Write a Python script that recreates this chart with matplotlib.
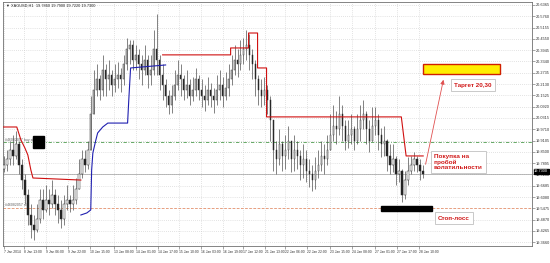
import matplotlib
matplotlib.use("Agg")
import matplotlib.pyplot as plt
from matplotlib.patches import Rectangle, FancyArrowPatch
import numpy as np

plt.rcParams['font.family'] = ['Liberation Sans', 'DejaVu Sans']

# ---------------- data (XAGUSD H1) ----------------
close = [19.78,19.81,19.86,19.83,19.89,19.78,19.70,19.62,19.51,19.46,
         19.43,19.49,19.59,19.54,19.59,19.57,19.62,19.57,19.54,19.49,
         19.57,19.59,19.57,19.59,19.65,19.73,19.81,19.78,19.86,20.05,
         20.18,20.24,20.18,20.29,20.24,20.26,20.21,20.24,20.26,20.24,
         20.32,20.40,20.42,20.34,20.37,20.32,20.29,20.34,20.26,20.29,
         20.40,20.34,20.26,20.21,20.15,20.10,20.15,20.21,20.26,20.24,
         20.18,20.21,20.15,20.18,20.24,20.18,20.15,20.13,20.18,20.15,
         20.13,20.18,20.21,20.15,20.19,20.24,20.29,20.34,20.32,20.37,
         20.40,20.42,20.37,20.32,20.24,20.18,20.15,20.18,20.13,20.02,
         19.86,19.81,19.89,19.83,19.86,19.91,19.81,19.86,19.83,19.78,
         19.81,19.75,19.73,19.70,19.75,19.78,19.83,19.81,19.86,19.94,
         19.99,19.97,20.05,19.99,19.91,19.94,19.97,19.91,19.97,20.02,
         20.05,19.97,19.91,19.99,20.02,19.94,19.89,19.91,19.83,19.78,
         19.81,19.73,19.75,19.62,19.70,19.75,19.78,19.81,19.78,19.75,
         19.73]
open_ = [19.76,19.78,19.81,19.86,19.83,19.89,19.78,19.70,19.62,19.51,
         19.46,19.43,19.49,19.59,19.54,19.59,19.57,19.62,19.57,19.54,
         19.49,19.57,19.59,19.57,19.59,19.65,19.73,19.81,19.78,19.86,
         20.05,20.18,20.24,20.18,20.29,20.24,20.26,20.21,20.24,20.26,
         20.24,20.32,20.40,20.42,20.34,20.37,20.32,20.29,20.34,20.26,
         20.29,20.40,20.34,20.26,20.21,20.15,20.10,20.15,20.21,20.26,
         20.24,20.18,20.21,20.15,20.18,20.24,20.18,20.15,20.13,20.18,
         20.15,20.13,20.18,20.21,20.15,20.19,20.24,20.29,20.34,20.32,
         20.37,20.40,20.42,20.37,20.32,20.24,20.18,20.15,20.18,20.13,
         20.02,19.86,19.81,19.89,19.83,19.86,19.91,19.81,19.86,19.83,
         19.78,19.81,19.75,19.73,19.70,19.75,19.78,19.83,19.81,19.86,
         19.94,19.99,19.97,20.05,19.99,19.91,19.94,19.97,19.91,19.97,
         20.02,20.05,19.97,19.91,19.99,20.02,19.94,19.89,19.91,19.83,
         19.78,19.81,19.73,19.75,19.62,19.70,19.75,19.78,19.81,19.78,
         19.75]
high = [19.83,19.86,19.91,19.94,19.96,19.91,19.81,19.73,19.65,19.57,
        19.51,19.57,19.65,19.65,19.67,19.65,19.70,19.65,19.62,19.59,
        19.62,19.67,19.62,19.67,19.71,19.81,19.86,19.86,19.91,20.15,
        20.29,20.32,20.26,20.37,20.32,20.34,20.29,20.32,20.33,20.30,
        20.37,20.46,20.45,20.45,20.42,20.40,20.37,20.42,20.37,20.37,
        20.50,20.59,20.37,20.32,20.24,20.18,20.21,20.29,20.34,20.32,
        20.26,20.29,20.24,20.25,20.30,20.26,20.24,20.21,20.25,20.22,
        20.19,20.26,20.29,20.25,20.28,20.32,20.37,20.42,20.40,20.45,
        20.46,20.50,20.48,20.40,20.34,20.26,20.24,20.25,20.21,20.15,
        19.99,19.91,19.97,19.91,19.94,19.99,19.91,19.94,19.91,19.86,
        19.89,19.86,19.81,19.78,19.82,19.86,19.91,19.89,19.94,20.05,
        20.10,20.07,20.15,20.10,20.02,20.02,20.05,19.99,20.05,20.10,
        20.13,20.07,20.02,20.09,20.09,20.05,19.98,19.99,19.92,19.89,
        19.89,19.83,19.81,19.76,19.75,19.82,19.83,19.85,19.83,19.81,
        19.78]
low = [19.74,19.75,19.78,19.78,19.81,19.73,19.65,19.57,19.46,19.39,
       19.38,19.42,19.47,19.49,19.53,19.51,19.55,19.51,19.47,19.44,
       19.46,19.54,19.53,19.54,19.57,19.65,19.71,19.74,19.76,19.86,
       20.07,20.15,20.13,20.15,20.15,20.18,20.15,20.17,20.19,20.17,
       20.21,20.29,20.32,20.29,20.29,20.24,20.21,20.26,20.19,20.21,
       20.26,20.26,20.18,20.13,20.09,20.05,20.06,20.13,20.18,20.15,
       20.13,20.14,20.10,20.12,20.15,20.13,20.09,20.07,20.10,20.09,
       20.06,20.10,20.13,20.09,20.13,20.15,20.21,20.26,20.25,20.29,
       20.32,20.34,20.29,20.24,20.15,20.10,20.09,20.10,20.05,19.91,
       19.75,19.73,19.78,19.75,19.76,19.81,19.74,19.75,19.76,19.70,
       19.71,19.69,19.66,19.64,19.65,19.71,19.75,19.73,19.78,19.86,
       19.91,19.89,19.94,19.91,19.86,19.87,19.89,19.86,19.89,19.91,
       19.97,19.89,19.85,19.91,19.94,19.86,19.82,19.83,19.75,19.73,
       19.74,19.67,19.69,19.58,19.60,19.67,19.73,19.75,19.74,19.70,
       19.71]

# trailing volatility stop lines (bar index, price)
red1_x = [-1, 4.3, 5.7, 7, 8, 9, 9.7, 25.7]
red1_y = [19.983, 19.983, 19.913, 19.871, 19.833, 19.753, 19.710, 19.699]
blue_x = [25.7, 27.7, 29, 29.3, 29.7, 30.7, 31.3, 33, 34.7, 41.3, 41.7, 42.3, 54]
blue_y = [19.512, 19.523, 19.539, 19.753, 19.844, 19.913, 19.951, 19.983, 20.004, 20.004, 20.128, 20.299, 20.315]
red2_x = [53, 75.7, 75.7, 81.7, 81.7, 84.7, 84.7, 87.7, 87.7, 132.7, 134.3, 140]
red2_y = [20.369, 20.369, 20.406, 20.406, 20.486, 20.486, 20.299, 20.299, 20.037, 20.037, 19.828, 19.828]

order_price = 19.903   # buy stop (green)
stop_price = 19.549    # stop loss (orange)
last_price = 19.73
target = 20.30

y_ticks = [20.6365, 20.5760, 20.5155, 20.4550, 20.3945, 20.3340, 20.2735, 20.2130,
           20.1525, 20.0920, 20.0315, 19.9710, 19.9105, 19.8500, 19.7895, 19.7290,
           19.6685, 19.6080, 19.5475, 19.4870, 19.4265, 19.3660]
x_tick_labels = ["7 Jan 2014", "8 Jan 13:00", "9 Jan 06:00", "9 Jan 22:00", "10 Jan 15:00",
                 "13 Jan 08:00", "14 Jan 01:00", "14 Jan 17:00", "15 Jan 10:00", "16 Jan 03:00",
                 "16 Jan 19:00", "17 Jan 12:00", "21 Jan 13:00", "22 Jan 06:00", "22 Jan 22:00",
                 "23 Jan 15:00", "24 Jan 08:00", "27 Jan 01:00", "27 Jan 17:00", "28 Jan 10:00"]
x_tick_bars = [0, 6.7, 14, 21.3, 28.7, 36.7, 44, 51.3, 58.3, 65.7, 73.3, 80, 87.3, 94,
               101.3, 109, 116.3, 124, 131.3, 138.7]

# ---------------- figure ----------------
W, H = 550, 263
fig = plt.figure(figsize=(W/100, H/100), dpi=100)
L, R, T, B = 3, 532, 2, 246
ax = fig.add_axes([L/W, 1-B/H, (R-L)/W, (B-T)/H])
YMIN, YMAX = 19.346, 20.652

def P(x, y):
    """pixel -> axes fraction"""
    return ((x-L)/(R-L), (B-y)/(B-T))

n = len(close)
xs = np.arange(n)
for i in range(n):
    o, c, h, l = open_[i], close[i], high[i], low[i]
    ax.vlines(xs[i], min(l, o, c), max(h, o, c), color='#505050', lw=0.5, zorder=3)
    up = c >= o
    lo, hi = min(o, c), max(o, c)
    if hi - lo < 0.004:
        hi = lo + 0.004
    ax.add_patch(Rectangle((xs[i]-0.25, lo), 0.5, hi-lo,
                           facecolor='white' if up else '#202020',
                           edgecolor='#303030', lw=0.35, zorder=4))

ax.plot(red1_x, red1_y, color='#d01010', lw=0.8, zorder=5)
ax.plot(blue_x, blue_y, color='#2020b0', lw=0.8, zorder=5)
ax.plot(red2_x, red2_y, color='#d01010', lw=0.8, zorder=5)

ax.axhline(order_price, color='#4c9a4c', lw=0.6, ls=(0, (4, 2, 1, 2)), zorder=2)
ax.axhline(stop_price, color='#e8906a', lw=0.6, ls=(0, (3, 2)), zorder=2)
ax.axhline(last_price, color='#a0a0a0', lw=0.5, zorder=2)

ax.set_xlim(-0.3, (R-L)/3)
ax.set_ylim(YMIN, YMAX)

ax.yaxis.tick_right()
ax.set_yticks(y_ticks)
ax.set_yticklabels([f"{v:.4f}" for v in y_ticks], fontsize=2.8, color='#303030')
ax.set_xticks(x_tick_bars)
ax.set_xticklabels(x_tick_labels, fontsize=2.4, color='#303030', ha='left')
ax.tick_params(axis='both', length=2, width=0.4, pad=1, color='#606060')
ax.grid(True, color='#c8c8c8', lw=0.5, ls=(0, (1, 2)))
for s in ax.spines.values():
    s.set_color('#707070')
    s.set_linewidth(0.6)

# current price label on axis
ax.text(1.004, (last_price-YMIN)/(YMAX-YMIN) + 0.012, f"{last_price:.4f}", transform=ax.transAxes,
        fontsize=2.8, color='white', va='center', ha='left',
        bbox=dict(boxstyle='square,pad=0.15', fc='black', ec='black'), clip_on=False, zorder=10)

# header
ax.text(*P(6, 6), "\u25BC XAGUSD,H1  19.7860 19.7900 19.7220 19.7300", transform=ax.transAxes,
        fontsize=2.8, color='#202020', va='center', ha='left')
# order labels
ax.text(*P(5, 139.5), "#46082057 buy stop 1.00", transform=ax.transAxes,
        fontsize=2.5, color='#606060', va='center', ha='left')
ax.text(*P(5, 205.5), "#46082057 sl", transform=ax.transAxes,
        fontsize=2.5, color='#606060', va='center', ha='left')

# black square marker
x0, y0 = P(33, 148); x1, y1 = P(44, 136)
ax.add_patch(Rectangle((x0, y0), x1-x0, y1-y0, transform=ax.transAxes, fc='black', ec='black', zorder=8))
# black stop bar
x0, y0 = P(381, 211); x1, y1 = P(432, 206)
ax.add_patch(Rectangle((x0, y0), x1-x0, y1-y0, transform=ax.transAxes, fc='black', ec='black', zorder=8))
# yellow target box
x0, y0 = P(423, 74); x1, y1 = P(500, 64)
ax.add_patch(Rectangle((x0, y0), x1-x0, y1-y0, transform=ax.transAxes, fc='#ffee00', ec='#d02000', lw=1.0, zorder=8))

# arrow
ax.add_patch(FancyArrowPatch(P(425, 167), P(444, 77), transform=ax.transAxes,
                             arrowstyle='-|>,head_length=2.5,head_width=1.2', color='#e05050', lw=0.6, zorder=9))

box = dict(boxstyle='square,pad=0.5', fc='white', ec='#c0c0c0', lw=0.6)
ax.text(*P(454, 85), "Таргет 20,30", transform=ax.transAxes, fontsize=4.5, fontweight='bold',
        color='#d01818', va='center', ha='left', bbox=box, zorder=10)
ax.text(*P(434, 162), "Покупка на\nпробой\nволатильности", transform=ax.transAxes, fontsize=4.6,
        fontweight='bold', color='#d01818', va='center', ha='left', linespacing=1.1, bbox=box, zorder=10)
ax.text(*P(438, 218), "Стоп-лосс", transform=ax.transAxes, fontsize=4.5, fontweight='bold',
        color='#d01818', va='center', ha='left', bbox=box, zorder=10)

fig.savefig("out.png", dpi=100)
